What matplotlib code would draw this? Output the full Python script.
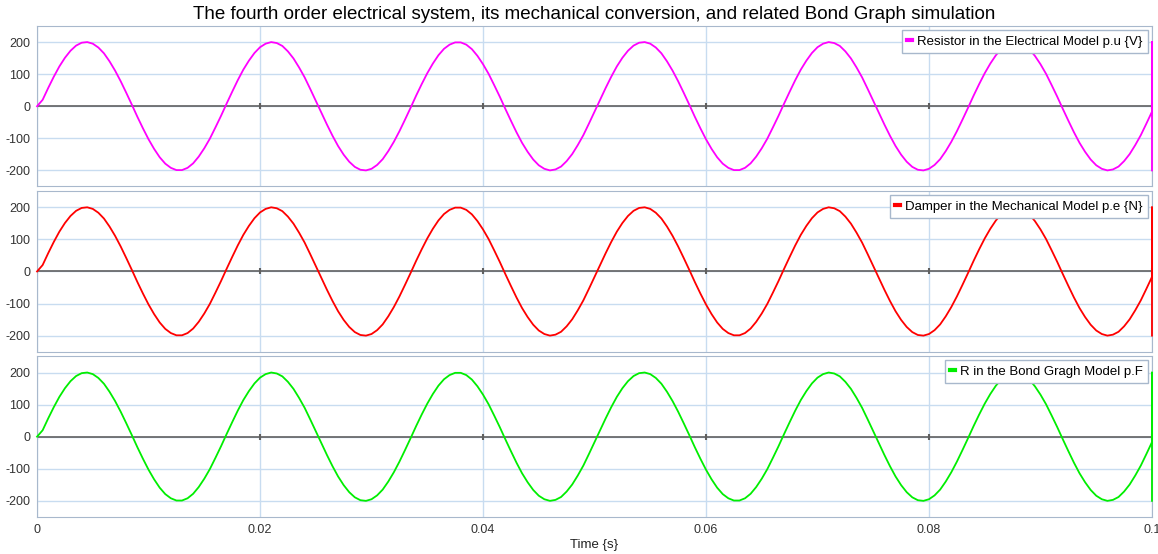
import matplotlib.pyplot as plt
from matplotlib.lines import Line2D
import numpy as np

plt.rcParams['font.family'] = ['Liberation Sans', 'DejaVu Sans']

# sampled every 0.5 ms from 0 to 0.1 s
t_start = 0.0
t_end = 0.1
n_samples = 201

resistor_u = [
    0, 20, 57, 92, 124, 151, 173, 189, 198, 200,
    195, 183, 165, 140, 111, 78, 42, 5, -33, -69,
    -103, -133, -159, -179, -192, -199, -199, -192, -178, -157,
    -131, -101, -66, -30, 8, 45, 81, 114, 142, 166,
    184, 195, 200, 197, 188, 171, 149, 121, 90, 54,
    17, -20, -57, -92, -124, -151, -173, -189, -198, -200,
    -195, -183, -165, -140, -111, -78, -42, -5, 33, 69,
    103, 133, 159, 179, 192, 199, 199, 192, 178, 157,
    131, 101, 66, 30, -8, -45, -81, -114, -142, -166,
    -184, -195, -200, -197, -188, -171, -149, -121, -90, -54,
    -17, 20, 57, 92, 124, 151, 173, 189, 198, 200,
    195, 183, 165, 140, 111, 78, 42, 5, -33, -69,
    -103, -133, -159, -179, -192, -199, -199, -192, -178, -157,
    -131, -101, -66, -30, 8, 45, 81, 114, 142, 166,
    184, 195, 200, 197, 188, 171, 149, 121, 90, 54,
    17, -20, -57, -92, -124, -151, -173, -189, -198, -200,
    -195, -183, -165, -140, -111, -78, -42, -5, 33, 69,
    103, 133, 159, 179, 192, 199, 199, 192, 178, 157,
    131, 101, 66, 30, -8, -45, -81, -114, -142, -166,
    -184, -195, -200, -197, -188, -171, -149, -121, -90, -54,
    -17,
]
# the three traces look identical in the picture
damper_e = list(resistor_u)
bond_f = list(resistor_u)

# vertical jump drawn at the very last time step
end_jump = [200, -200]

labels = [
    'Resistor in the Electrical Model p.u {V}',
    'Damper in the Mechanical Model p.e {N}',
    'R in the Bond Gragh Model p.F',
]
colors = ['#ff00ff', '#ff0000', '#00ee00']
x_ticks = [0, 0.02, 0.04, 0.06, 0.08, 0.1]
x_tick_labels = ['0', '0.02', '0.04', '0.06', '0.08', '0.1']
y_ticks = [-200, -100, 0, 100, 200]

time = np.linspace(t_start, t_end, n_samples)

fig, axes = plt.subplots(3, 1, figsize=(11.58, 5.54), dpi=100, sharex=True)
fig.subplots_adjust(left=0.032, right=0.9948, top=0.953, bottom=0.067, hspace=0.03)

frame_color = '#a8b8cc'
for ax, values, label, color in zip(axes, [resistor_u, damper_e, bond_f], labels, colors):
    t_plot = list(time) + [t_end] * len(end_jump)
    v_plot = list(values) + end_jump
    ax.plot(t_plot, v_plot, color=color, lw=1.3, zorder=3, clip_on=False)
    ax.axhline(0, color='#606060', lw=1.2, zorder=2)
    ax.plot(x_ticks, [0] * len(x_ticks), '|', color='#606060', ms=4, mew=1.5, zorder=2)
    ax.set_xlim(0, 0.1)
    ax.set_ylim(-250, 250)
    ax.set_yticks(y_ticks)
    ax.set_yticklabels([str(v) for v in y_ticks])
    ax.set_xticks(x_ticks)
    ax.set_xticklabels(x_tick_labels)
    ax.grid(color='#c8dcf0', lw=1)
    ax.set_axisbelow(True)
    for s in ax.spines.values():
        s.set_color(frame_color)
    ax.tick_params(length=0, labelsize=9, colors='#333333', pad=5)
    leg = ax.legend(handles=[Line2D([], [], color=color, lw=3)], labels=[label],
                    loc='upper right', fancybox=False, edgecolor=frame_color,
                    framealpha=1, handlelength=0.35, handletextpad=0.4,
                    borderaxespad=0.3, borderpad=0.4, fontsize=9.5)
    leg.get_frame().set_linewidth(1)

axes[0].set_title('The fourth order electrical system, its mechanical conversion, '
                  'and related Bond Graph simulation', fontsize=13.5, pad=5)
axes[2].set_xlabel('Time {s}', fontsize=9.5, labelpad=2, color='#222222')

fig.savefig('out.png', dpi=100)
